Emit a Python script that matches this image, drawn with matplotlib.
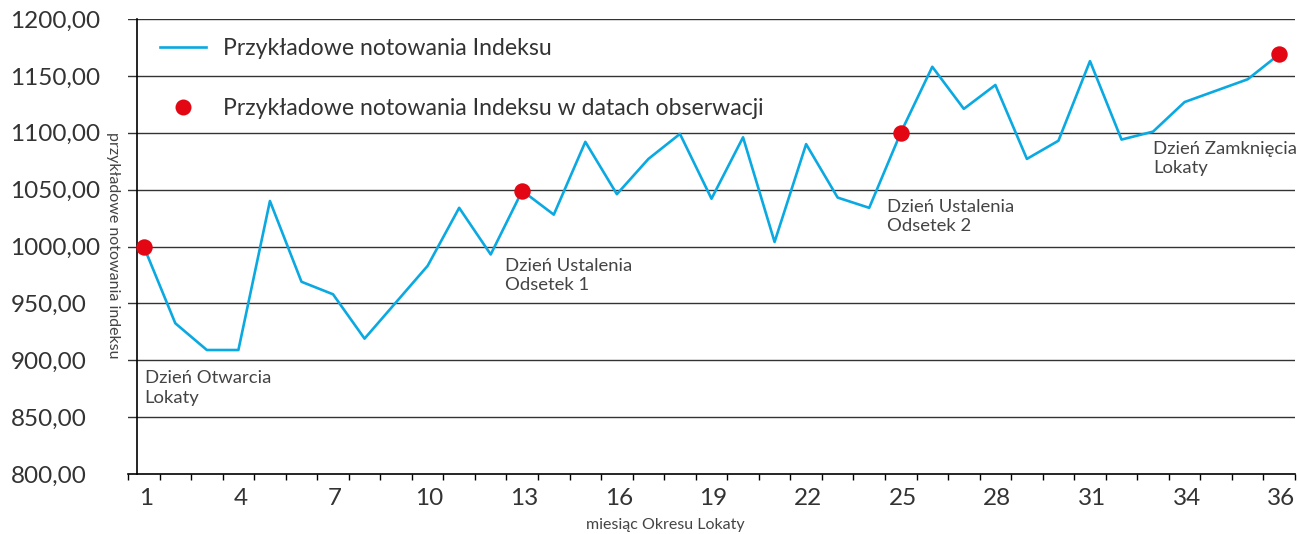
import matplotlib
matplotlib.use("Agg")
import matplotlib.pyplot as plt
from matplotlib.lines import Line2D
from matplotlib.transforms import ScaledTranslation

plt.rcParams['font.family'] = ['Lato', 'DejaVu Sans']

# Notowania indeksu (37 obserwacji)
miesiace = list(range(37))
notowania = [1000, 932.5, 909, 909, 1040, 969, 958, 919, 951, 983,
             1034, 993, 1049, 1028, 1092, 1046, 1077, 1099, 1042, 1096,
             1004, 1090, 1043, 1034, 1100, 1158, 1121, 1142, 1077, 1093,
             1163, 1094, 1101, 1127, 1137, 1147, 1169]
# Daty obserwacji
obs_idx = [0, 12, 24, 36]
obs_val = [notowania[i] for i in obs_idx]
obs_opisy = ['Dzień Otwarcia\nLokaty', 'Dzień Ustalenia\nOdsetek 1',
             'Dzień Ustalenia\nOdsetek 2', 'Dzień Zamknięcia\nLokaty']
opis_x = [0.03, 11.44, 23.55, 32.0]
opis_y = [891, 990, 1042, 1093]

tick_pos = [0, 3, 6, 9, 12, 15, 18, 21, 24, 27, 30, 33, 36]
tick_lab = ['1', '4', '7', '10', '13', '16', '19', '22', '25', '28', '31', '34', '36']
y_ticks = [800, 850, 900, 950, 1000, 1050, 1100, 1150, 1200]

niebieski = '#0AA9E1'
czerwony = '#E30613'

fig = plt.figure(figsize=(12.98, 5.34), dpi=100)
ax = fig.add_axes([128/1298, 1-474/534, (1295-128)/1298, (474-19)/534])

for v in y_ticks[1:]:
    ax.axhline(v, color='#333333', lw=1.0, zorder=1)

ax.plot(miesiace, notowania, color=niebieski, lw=1.9, zorder=3)
ax.scatter(obs_idx, obs_val, s=140, color=czerwony, zorder=4, linewidths=0)

for x, y, t in zip(opis_x, opis_y, obs_opisy):
    ax.text(x, y, t, fontsize=13.3, color='#444444',
            va='top', ha='left', linespacing=1.27)

ax.set_xlim(-0.5, 36.5)
ax.set_ylim(800, 1200)

for s in ['top', 'right']:
    ax.spines[s].set_visible(False)
ax.spines['left'].set_position(('data', -0.2))
ax.spines['left'].set_color('black')
ax.spines['left'].set_linewidth(1.2)
ax.spines['bottom'].set_color('black')
ax.spines['bottom'].set_linewidth(1.2)

ax.set_yticks(y_ticks)
ax.set_yticklabels([f"{v:.2f}".replace('.', ',') for v in y_ticks])
ax.tick_params(axis='y', length=0, pad=91.5, labelsize=17.5, labelcolor='#333333')
for lab in ax.get_yticklabels():
    lab.set_ha('left')

ax.set_xticks([p - 0.5 for p in range(38)], minor=True)
ax.set_xticks(tick_pos)
ax.set_xticklabels(tick_lab)
ax.tick_params(axis='x', which='major', length=0, pad=10, labelsize=17.5, labelcolor='#333333')
ax.tick_params(axis='x', which='minor', length=4, width=1, color='black', direction='out')
przesun = ScaledTranslation(2/100, 0, fig.dpi_scale_trans)
for lab in ax.get_xticklabels():
    lab.set_transform(lab.get_transform() + przesun)

fig.text(113/1298, 1-245/534, 'przykładowe notowania indeksu', rotation=270,
         fontsize=11.5, color='#444444', ha='center', va='center')
fig.text(665/1298, 1-525/534, 'miesiąc Okresu Lokaty', fontsize=11.5,
         color='#444444', ha='center', va='center')

h1 = Line2D([], [], color=niebieski, lw=1.9)
h2 = Line2D([], [], color=czerwony, marker='o', ls='none', markersize=11.5, markeredgewidth=0)
ax.legend([h1, h2], ['Przykładowe notowania Indeksu',
                     'Przykładowe notowania Indeksu w datach obserwacji'],
          loc='upper left', bbox_to_anchor=(160/1298, 1-38/534),
          bbox_transform=fig.transFigure, frameon=False, fontsize=16.6,
          handlelength=2.0, handletextpad=0.75, labelspacing=1.7,
          borderpad=0, borderaxespad=0, labelcolor='#333333')

fig.savefig('out.png', dpi=100)
